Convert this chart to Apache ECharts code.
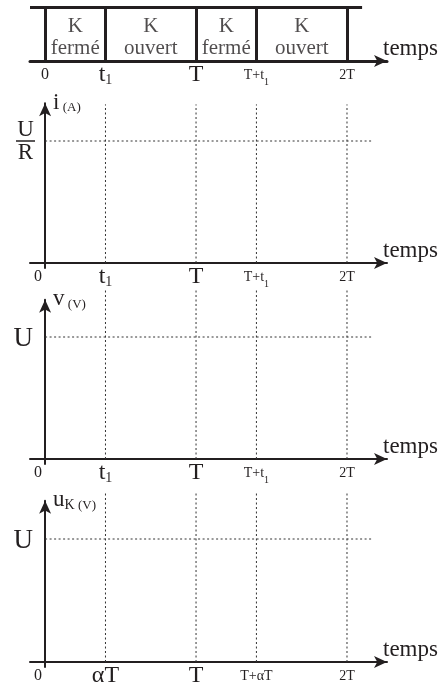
<!DOCTYPE html>
<html>
<head>
<meta charset="UTF-8">
<title></title>
<style>
html,body{margin:0;padding:0;background:#fff;}
#box{width:440px;height:683px;}
</style>
</head>
<body>
<div id="box"></div>
<script type="text/javascript" src="https://cdn.jsdelivr.net/npm/echarts@6/dist/echarts.min.js"></script>
<script type="text/javascript">
// instants en unites de T (t1 = alpha*T)
var instants = [0, 0.4, 1, 1.4, 2];
var etats = ['fermé', 'ouvert', 'fermé', 'ouvert'];
var ticksT1 = [['0', ''], ['t', '1'], ['T', ''], ['T+t', '1'], ['2T', '']];
var ticksAlpha = [['0', ''], ['αT', ''], ['T', ''], ['T+αT', ''], ['2T', '']];
// niveaux : U/R, U, U
var niveaux = [1, 1, 1];
var niveauxLabels = [['U', 'R'], ['U', ''], ['U', '']];
var nomsAxes = [['i', '', '(A)'], ['v', '', '(V)'], ['u', 'K', '(V)']];
var finPointilles = 2.17;

var chart = echarts.init(document.getElementById('box'));
var coul = '#231f20';
var police = 'Liberation Serif';
var X0 = -0.1, X1 = 2.265;
var gLeft = 30, gWidth = 357;

// geometrie des trois graphes
var panneaux = [
  {zero: 263, ech: 122, max: 1.31, haut: 1.30, ticks: ticksT1},
  {zero: 459, ech: 122, max: 1.305, haut: 1.40, ticks: ticksT1},
  {zero: 662, ech: 123, max: 1.31, haut: 1.38, ticks: ticksAlpha}
];
var yMin = -0.04;

var richTemps = {
  z: {fontFamily: police, fontSize: 16, lineHeight: 24, color: coul},
  z0: {fontFamily: police, fontSize: 16, lineHeight: 24, color: coul, padding: [0, 14, 0, 0]},
  b: {fontFamily: police, fontSize: 24, lineHeight: 24, color: coul},
  bs: {fontFamily: police, fontSize: 14, lineHeight: 10, verticalAlign: 'bottom', color: coul},
  s: {fontFamily: police, fontSize: 14, lineHeight: 24, color: coul},
  ss: {fontFamily: police, fontSize: 10, lineHeight: 16, verticalAlign: 'bottom', color: coul}
};

function labelTemps(ticks, decale) {
  return function (v) {
    for (var i = 0; i < instants.length; i++) {
      if (Math.abs(instants[i] - v) < 1e-6) {
        var t = ticks[i];
        if (i === 0) return (decale ? '{z0|' : '{z|') + t[0] + '}';
        var grand = i < 3;
        var s = (grand ? '{b|' : '{s|') + t[0] + '}';
        if (t[1]) s += (grand ? '{bs|' : '{ss|') + t[1] + '}';
        return s;
      }
    }
    return '';
  };
}

function axeTemps(g, ticks, decale, epais, marge) {
  return {
    gridIndex: g, type: 'value', min: X0, max: X1,
    axisLine: {onZero: true, symbol: ['none', 'arrow'], symbolSize: [9, 13], lineStyle: {color: coul, width: epais}},
    axisTick: {show: false}, splitLine: {show: false},
    axisLabel: {customValues: instants, formatter: labelTemps(ticks, decale), rich: richTemps, margin: marge},
    name: 'temps', nameLocation: 'end', nameGap: -4, nameMoveOverlap: false,
    nameTextStyle: {fontFamily: police, fontSize: 23, color: coul, align: 'left', verticalAlign: 'bottom', padding: [0, 0, 1, 0]}
  };
}

var grids = [], xAxes = [], yAxes = [], series = [];

// bande du haut : etat de K
grids.push({left: gLeft, width: gWidth, top: 7, height: 54, containLabel: false, outerBoundsMode: 'none'});
xAxes.push(axeTemps(0, ticksT1, false, 3, 2));
yAxes.push({gridIndex: 0, type: 'value', min: 0, max: 1, show: false});
var lignesBande = [[{coord: [X0, 1]}, {coord: [2.1, 1]}]];
instants.forEach(function (t) {
  lignesBande.push([{coord: [t, 0]}, {coord: [t, 1]}]);
});
series.push({
  type: 'line', xAxisIndex: 0, yAxisIndex: 0, data: [], clip: false, silent: true,
  markLine: {symbol: 'none', silent: true, animation: false, label: {show: false},
    lineStyle: {type: 'solid', color: coul, width: 3}, data: lignesBande}
});
series.push({
  type: 'scatter', xAxisIndex: 0, yAxisIndex: 0, symbolSize: 1, silent: true,
  itemStyle: {color: 'rgba(0,0,0,0)'},
  data: etats.map(function (e, i) { return [(instants[i] + instants[i + 1]) / 2, 0.44, e]; }),
  label: {show: true, position: 'inside', formatter: function (p) { return 'K\n' + p.data[2]; },
    fontFamily: police, fontSize: 21, lineHeight: 22, color: coul, align: 'center'}
});

var pointille = {type: [2, 2.5], color: '#333', width: 1};

panneaux.forEach(function (p, k) {
  var g = k + 1;
  grids.push({left: gLeft, width: gWidth, top: p.zero - p.max * p.ech,
    height: (p.max - yMin) * p.ech, containLabel: false, outerBoundsMode: 'none'});
  xAxes.push(axeTemps(g, p.ticks, true, 2, 2 + yMin * p.ech));
  var nm = nomsAxes[k];
  var nl = niveauxLabels[k];
  yAxes.push({
    gridIndex: g, type: 'value', min: yMin, max: p.max,
    axisLine: {onZero: true, symbol: ['none', 'arrow'], symbolSize: [9, 13], lineStyle: {color: coul, width: 2}},
    axisTick: {show: false}, splitLine: {show: false},
    axisLabel: {
      customValues: [niveaux[k]], margin: nl[1] ? -5 : -3,
      formatter: function () {
        return nl[1] ? '{u|' + nl[0] + '}\n{bar| }\n{u|' + nl[1] + '}' : '{U|' + nl[0] + '}';
      },
      rich: {
        u: {fontFamily: police, fontSize: 23, lineHeight: 20, color: coul, align: 'center'},
        bar: {width: 19, height: 1.5, lineHeight: 3, backgroundColor: coul, align: 'center'},
        U: {fontFamily: police, fontSize: 27, lineHeight: 26, color: coul, padding: [3, 0, 0, 0]}
      }
    },
    name: '{n|' + nm[0] + '}' + (nm[1] ? '{s|' + nm[1] + '}' : '') + '{p| ' + nm[2] + '}',
    nameLocation: 'end', nameGap: 0, nameMoveOverlap: false,
    nameTextStyle: {align: 'left', verticalAlign: 'middle', padding: [0, 0, 0, 8],
      rich: {
        n: {fontFamily: police, fontSize: 23, lineHeight: 22, verticalAlign: 'bottom', color: coul},
        s: {fontFamily: police, fontSize: 14, lineHeight: 8, verticalAlign: 'bottom', color: coul},
        p: {fontFamily: police, fontSize: 13, lineHeight: 16, verticalAlign: 'bottom', color: coul}
      }}
  });
  // niveau horizontal en pointilles
  series.push({
    type: 'line', xAxisIndex: g, yAxisIndex: g, clip: false, silent: true, symbol: 'none',
    lineStyle: pointille, data: [[0, niveaux[k]], [finPointilles, niveaux[k]]]
  });
  // reperes verticaux en pointilles
  instants.slice(1).forEach(function (t) {
    series.push({
      type: 'line', xAxisIndex: g, yAxisIndex: g, clip: false, silent: true, symbol: 'none',
      lineStyle: pointille, data: [[t, 0], [t, p.haut]]
    });
  });
});

chart.setOption({
  animation: false,
  backgroundColor: '#fff',
  grid: grids,
  xAxis: xAxes,
  yAxis: yAxes,
  series: series
});
</script>
</body>
</html>
